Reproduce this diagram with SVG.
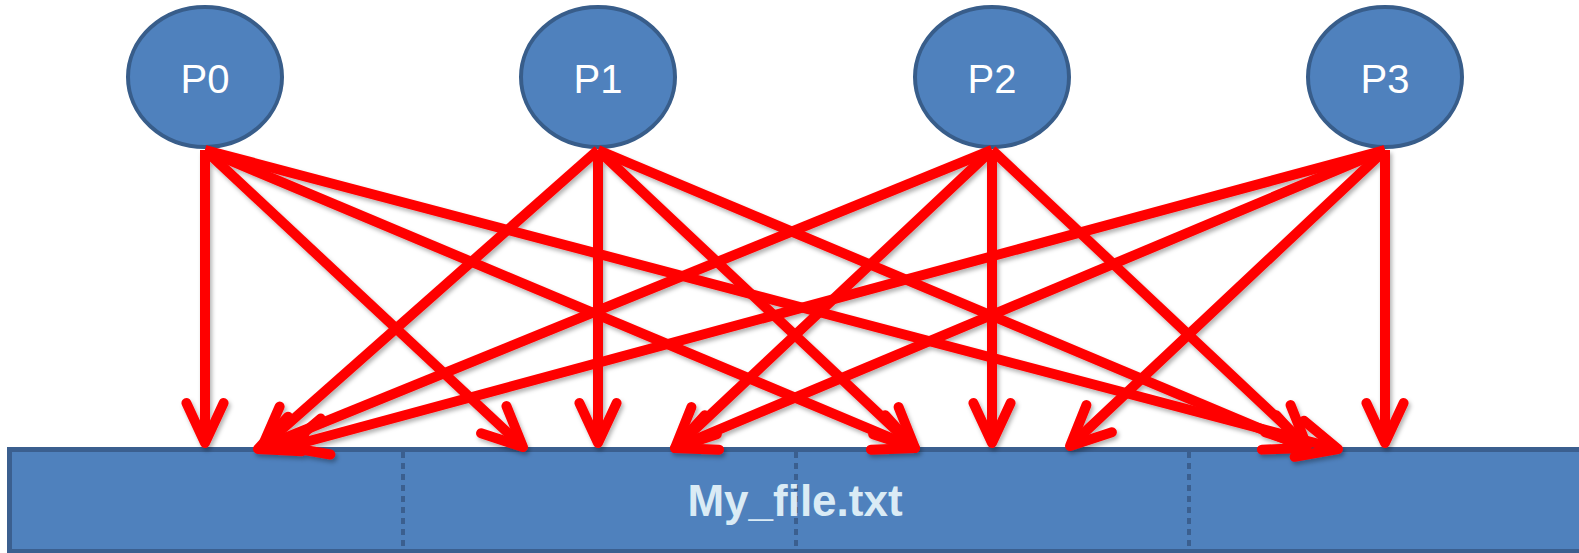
<svg xmlns="http://www.w3.org/2000/svg" width="1579" height="553" viewBox="0 0 1579 553">
  <style>
    .proc { fill: #4F81BD; stroke: #385D8A; stroke-width: 4; }
    .ptxt { font-family: "Liberation Sans", Arial, sans-serif; font-size: 40px; fill: #FFFFFF; text-anchor: middle; }
    .file { fill: #4F81BD; stroke: #3B5F8F; stroke-width: 5; }
    .div { stroke: #3B5F8F; stroke-width: 4; stroke-dasharray: 6 5; }
    .ftxt { font-family: "Liberation Sans", Arial, sans-serif; font-size: 44px; font-weight: bold; fill: #DAEBF5; text-anchor: middle; }
    .arr { stroke: #FF0000; stroke-width: 10; fill: none; marker-end: url(#head); }
  </style>
  <defs>
    <marker id="head" markerUnits="userSpaceOnUse" markerWidth="80" markerHeight="80" viewBox="-60 -40 80 80" refX="0" refY="0" orient="auto" overflow="visible">
      <path d="M-40,-18.6 L0,0 L-40,18.6" fill="none" stroke="#FF0000" stroke-width="10" stroke-linecap="round" stroke-linejoin="round"/>
    </marker>
    <filter id="shadow" x="-5%" y="-5%" width="110%" height="120%">
      <feDropShadow dx="2" dy="3" stdDeviation="2" flood-color="#000000" flood-opacity="0.3"/>
    </filter>
  </defs>

  <g id="file">
    <rect class="file" x="9.5" y="449.5" width="1590" height="102"/>
    <line class="div" x1="403" y1="452" x2="403" y2="549"/>
    <line class="div" x1="796" y1="452" x2="796" y2="549"/>
    <line class="div" x1="1189" y1="452" x2="1189" y2="549"/>
    <text class="ftxt" x="795" y="516">My_file.txt</text>
  </g>

  <g id="P0">
    <ellipse class="proc" cx="205" cy="77" rx="77" ry="70"/>
    <text class="ptxt" x="205" y="93">P0</text>
  </g>
  <g id="P1">
    <ellipse class="proc" cx="598" cy="77" rx="77" ry="70"/>
    <text class="ptxt" x="598" y="93">P1</text>
  </g>
  <g id="P2">
    <ellipse class="proc" cx="992" cy="77" rx="77" ry="70"/>
    <text class="ptxt" x="992" y="93">P2</text>
  </g>
  <g id="P3">
    <ellipse class="proc" cx="1385" cy="77" rx="77" ry="70"/>
    <text class="ptxt" x="1385" y="93">P3</text>
  </g>

  <g id="connectors" filter="url(#shadow)">
    <line class="arr" x1="205" y1="150" x2="205" y2="443"/>
    <line class="arr" x1="205" y1="150" x2="523" y2="447"/>
    <line class="arr" x1="205" y1="150" x2="915" y2="448"/>
    <line class="arr" x1="205" y1="150" x2="1338" y2="449"/>

    <line class="arr" x1="598" y1="150" x2="262" y2="447"/>
    <line class="arr" x1="598" y1="150" x2="598" y2="443"/>
    <line class="arr" x1="598" y1="150" x2="915" y2="448"/>
    <line class="arr" x1="598" y1="150" x2="1306" y2="448"/>

    <line class="arr" x1="992" y1="150" x2="258" y2="449"/>
    <line class="arr" x1="992" y1="150" x2="675" y2="448"/>
    <line class="arr" x1="992" y1="150" x2="992" y2="443"/>
    <line class="arr" x1="992" y1="150" x2="1307" y2="446"/>

    <line class="arr" x1="1385" y1="150" x2="287" y2="447"/>
    <line class="arr" x1="1385" y1="150" x2="675" y2="448"/>
    <line class="arr" x1="1385" y1="150" x2="1070" y2="446"/>
    <line class="arr" x1="1385" y1="150" x2="1385" y2="443"/>
  </g>
</svg>
